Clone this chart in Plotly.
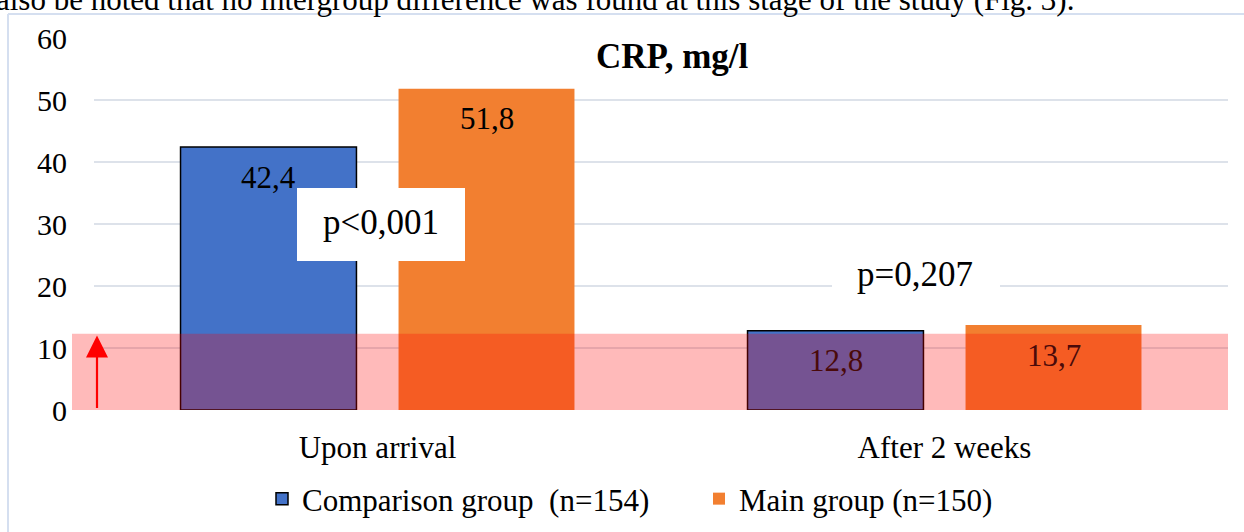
import plotly.graph_objects as go

# ---- data ----
categories = ["Upon arrival", "After 2 weeks"]
comparison_vals = [42.4, 12.8]
main_vals = [51.8, 13.7]
series_names = ["Comparison group  (n=154)", "Main group (n=150)"]
p_labels = ["p<0,001", "p=0,207"]
norm_upper = 12.3
y_ticks = [0, 10, 20, 30, 40, 50, 60]
chart_title = "CRP, mg/l"
caption = "also be noted that no intergroup difference was found at this stage of the study (Fig. 3)."

FONT = "Liberation Serif"
W, H = 1244, 532
L, R, T, B = 94, 16, 38, 122
PW, PH = W - L - R, H - T - B


def px_x(px):
    return (px - L) / PW


def px_y(py):
    return (H - B - py) / PH


fig = go.Figure()
fig.add_trace(go.Bar(
    x=categories, y=comparison_vals, name=series_names[0],
    marker=dict(color="#4372c8", line=dict(color="black", width=1.5)),
))
fig.add_trace(go.Bar(
    x=categories, y=main_vals, name=series_names[1],
    marker=dict(color="#f27f30", line=dict(width=0)),
))

# value labels
offsets = [-109, 109]
for vals, off in zip([comparison_vals, main_vals], offsets):
    for cat, v in zip(categories, vals):
        inband = (v - 5) < norm_upper
        fig.add_annotation(
            x=cat, y=v, xref="x", yref="y", xshift=off, yshift=-30,
            xanchor="center", yanchor="middle",
            text=f"{v:.1f}".replace(".", ","), showarrow=False,
            font=dict(family=FONT, size=31, color="#4a0a0a" if inband else "black"),
        )

shapes = [
    # reference band
    dict(type="rect", xref="paper", yref="y", x0=px_x(72), x1=px_x(1228), y0=0, y1=norm_upper,
         fillcolor="rgba(255,0,0,0.27)", line=dict(width=0), layer="above"),
    # p-value boxes
    dict(type="rect", xref="paper", yref="paper", x0=px_x(297), x1=px_x(465), y0=px_y(261), y1=px_y(188),
         fillcolor="white", line=dict(width=0), layer="above"),
    dict(type="rect", xref="paper", yref="paper", x0=px_x(832), x1=px_x(1000), y0=px_y(300), y1=px_y(252),
         fillcolor="white", line=dict(width=0), layer="above"),
    dict(type="rect", xref="paper", yref="paper", x0=px_x(581), x1=px_x(765), y0=px_y(80), y1=px_y(34),
         fillcolor="white", line=dict(width=0), layer="above"),
    # chart frame (top and left)
    dict(type="line", xref="paper", yref="paper", x0=px_x(8), x1=px_x(1260), y0=px_y(14), y1=px_y(14),
         line=dict(color="#d5dff0", width=2), layer="above"),
    dict(type="line", xref="paper", yref="paper", x0=px_x(8), x1=px_x(8), y0=px_y(14), y1=px_y(560),
         line=dict(color="#d5dff0", width=2), layer="above"),
]

# p-values
fig.add_annotation(x=px_x(381), y=px_y(222), xref="paper", yref="paper", text=p_labels[0],
                   xanchor="center", yanchor="middle",
                   showarrow=False, font=dict(family=FONT, size=35, color="black"))
fig.add_annotation(x=px_x(915), y=px_y(274), xref="paper", yref="paper", text=p_labels[1],
                   xanchor="center", yanchor="middle",
                   showarrow=False, font=dict(family=FONT, size=35, color="black"))
# title
fig.add_annotation(x=px_x(672), y=px_y(57), xref="paper", yref="paper", text=f"<b>{chart_title}</b>",
                   xanchor="center", yanchor="middle",
                   showarrow=False, font=dict(family=FONT, size=35, color="black"))
# caption at top (cut off by page edge)
fig.add_annotation(x=px_x(-6), y=px_y(-1), xref="paper", yref="paper", xanchor="left", yanchor="middle",
                   text=caption, showarrow=False, font=dict(family=FONT, size=31, color="black"))
# red arrow
fig.add_annotation(x=px_x(97), y=12.0, xref="paper", yref="y", ax=0, ay=74,
                   showarrow=True, arrowhead=2, arrowsize=2.0, arrowwidth=2.2, arrowcolor="red", text="")

fig.update_layout(
    width=W, height=H, autosize=False,
    margin=dict(l=L, r=R, t=T, b=B, autoexpand=False),
    paper_bgcolor="white", plot_bgcolor="white",
    barmode="group", bargap=0.231, bargroupgap=0.193,
    shapes=shapes,
    font=dict(family=FONT, color="black"),
    legend=dict(orientation="h", x=px_x(262), xanchor="left", yref="container",
                y=1 - 499 / H, yanchor="middle", entrywidth=392, entrywidthmode="pixels",
                font=dict(family=FONT, size=31), traceorder="normal"),
    showlegend=True,
)
fig.update_yaxes(range=[0, 60], tickvals=y_ticks, showgrid=True, gridcolor="#dde2ea", gridwidth=2,
                 zeroline=False, showline=False, ticks="", tickfont=dict(family=FONT, size=30),
                 ticklabelstandoff=26)
fig.update_xaxes(showgrid=False, showline=False, ticks="", tickfont=dict(family=FONT, size=31),
                 ticklabelstandoff=16)

fig.write_html("out.html")
